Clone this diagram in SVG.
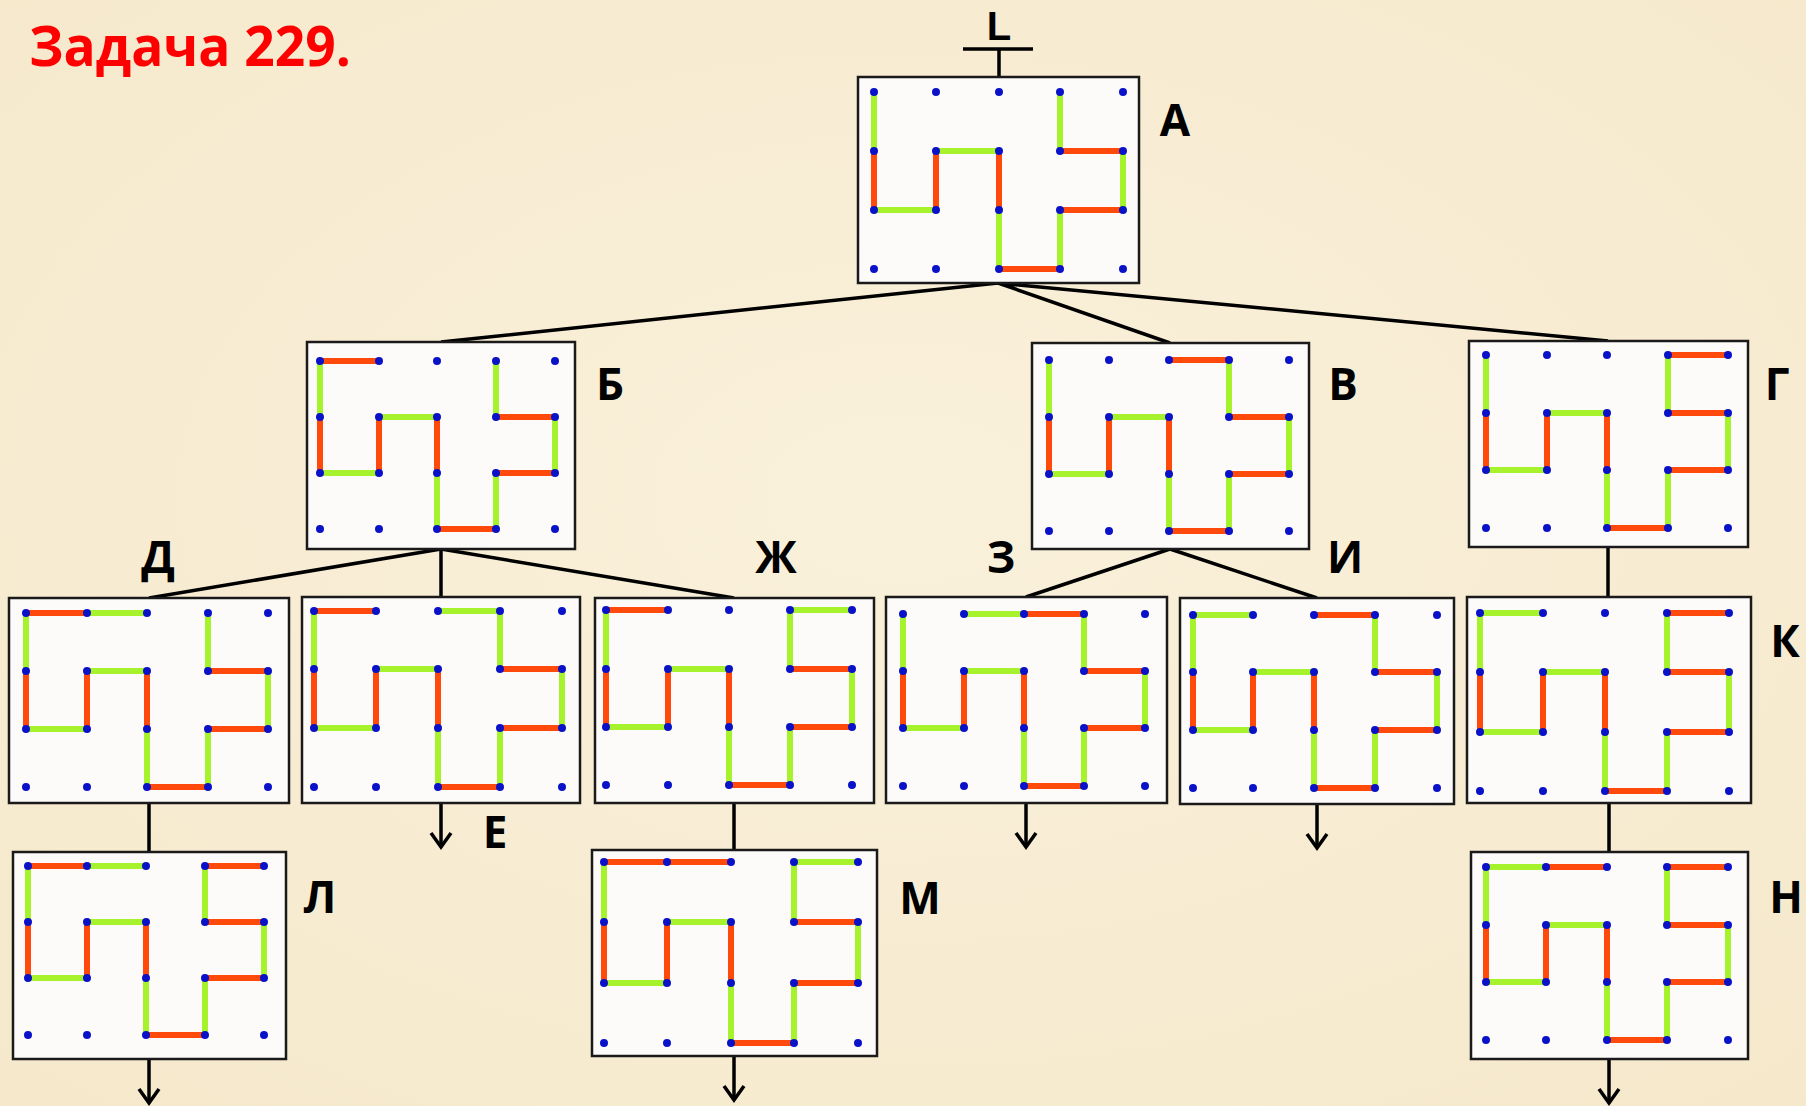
<svg xmlns="http://www.w3.org/2000/svg" width="1806" height="1106" viewBox="0 0 1806 1106">
<defs>
<radialGradient id="bg" cx="50%" cy="45%" r="75%">
<stop offset="0" stop-color="#faf1db"/>
<stop offset="1" stop-color="#f5e8cb"/>
</radialGradient>
<marker id="arr" markerUnits="userSpaceOnUse" markerWidth="30" markerHeight="30" viewBox="-20 -15 30 30" refX="0" refY="0" orient="auto" overflow="visible">
<path d="M-14 -10 L0 0 L-14 10" fill="none" stroke="#000" stroke-width="3.5" stroke-linejoin="miter"/>
</marker>
</defs>
<style>
.box{fill:#fdfbfa;stroke:#1a1a1a;stroke-width:2.5}
.r{fill:none;stroke:#ff4a0c;stroke-width:6;stroke-linecap:butt}
.g{fill:none;stroke:#a6f22c;stroke-width:6;stroke-linecap:butt}
.d{fill:none;stroke:#0a12c8;stroke-width:8;stroke-linecap:round}
.ln{fill:none;stroke:#000;stroke-width:3.5}
.lb{font-family:"Open Sans","Noto Sans","DejaVu Sans",sans-serif;font-weight:bold;font-size:44px;fill:#000;text-anchor:middle}
.title{font-family:"Open Sans","Noto Sans","DejaVu Sans",sans-serif;font-weight:bold;font-size:56px;fill:#ff0000}
</style>
<rect x="0" y="0" width="1806" height="1106" fill="url(#bg)"/>
<text class="title" x="29" y="66" textLength="322" lengthAdjust="spacingAndGlyphs">Задача 229.</text>

<g id="connectors">
<path class="ln" d="M963 49H1033 M999 49V77"/>
<path class="ln" d="M998 283L441 342 M998 283L1170 343 M998 283L1608 341"/>
<path class="ln" d="M441 549L149 598 M441 549L734 598"/>
<path class="ln" d="M1170 549L1026 597 M1170 549L1317 598"/>
<path class="ln" d="M1608 547V597 M149 803V852 M734 803V850 M1609 803V852"/>
<path class="ln" d="M441 549V597"/>
<path class="ln" marker-end="url(#arr)" d="M441 803V847"/>
<path class="ln" marker-end="url(#arr)" d="M1026 803V847"/>
<path class="ln" marker-end="url(#arr)" d="M1317 804V848"/>
<path class="ln" marker-end="url(#arr)" d="M149 1059V1103"/>
<path class="ln" marker-end="url(#arr)" d="M734 1056V1100"/>
<path class="ln" marker-end="url(#arr)" d="M1609 1059V1103"/>
</g>

<text x="999" y="40" style="font-family:'Liberation Sans',Arial,sans-serif;font-weight:bold;font-size:40px;text-anchor:middle;fill:#000">L</text>

<g id="node-A">
<rect class="box" x="858" y="77" width="281" height="206"/>
<path class="r" d="M874 151V210 M936 210V151 M999 151V210 M999 269H1060 M1060 210H1123 M1123 151H1060"/>
<path class="g" d="M874 92V151 M874 210H936 M936 151H999 M999 210V269 M1060 269V210 M1123 210V151 M1060 151V92"/>
<path class="d" d="M874 92h0M936 92h0M999 92h0M1060 92h0M1123 92h0M874 151h0M936 151h0M999 151h0M1060 151h0M1123 151h0M874 210h0M936 210h0M999 210h0M1060 210h0M1123 210h0M874 269h0M936 269h0M999 269h0M1060 269h0M1123 269h0"/>
<text class="lb" x="1175" y="136">А</text>
</g>

<g id="node-B">
<rect class="box" x="307" y="342" width="268" height="207"/>
<path class="r" d="M320 417V473 M379 473V417 M437 417V473 M437 529H496 M496 473H555 M555 417H496 M320 361H379"/>
<path class="g" d="M320 361V417 M320 473H379 M379 417H437 M437 473V529 M496 529V473 M555 473V417 M496 417V361"/>
<path class="d" d="M320 361h0M379 361h0M437 361h0M496 361h0M555 361h0M320 417h0M379 417h0M437 417h0M496 417h0M555 417h0M320 473h0M379 473h0M437 473h0M496 473h0M555 473h0M320 529h0M379 529h0M437 529h0M496 529h0M555 529h0"/>
<text class="lb" x="610" y="400">Б</text>
</g>

<g id="node-V">
<rect class="box" x="1032" y="343" width="277" height="206"/>
<path class="r" d="M1049 417V474 M1109 474V417 M1169 417V474 M1169 531H1229 M1229 474H1289 M1289 417H1229 M1169 360H1229"/>
<path class="g" d="M1049 360V417 M1049 474H1109 M1109 417H1169 M1169 474V531 M1229 531V474 M1289 474V417 M1229 417V360"/>
<path class="d" d="M1049 360h0M1109 360h0M1169 360h0M1229 360h0M1289 360h0M1049 417h0M1109 417h0M1169 417h0M1229 417h0M1289 417h0M1049 474h0M1109 474h0M1169 474h0M1229 474h0M1289 474h0M1049 531h0M1109 531h0M1169 531h0M1229 531h0M1289 531h0"/>
<text class="lb" x="1343" y="400">В</text>
</g>

<g id="node-G">
<rect class="box" x="1469" y="341" width="279" height="206"/>
<path class="r" d="M1486 413V470 M1547 470V413 M1607 413V470 M1607 528H1668 M1668 470H1728 M1728 413H1668 M1668 355H1728"/>
<path class="g" d="M1486 355V413 M1486 470H1547 M1547 413H1607 M1607 470V528 M1668 528V470 M1728 470V413 M1668 413V355"/>
<path class="d" d="M1486 355h0M1547 355h0M1607 355h0M1668 355h0M1728 355h0M1486 413h0M1547 413h0M1607 413h0M1668 413h0M1728 413h0M1486 470h0M1547 470h0M1607 470h0M1668 470h0M1728 470h0M1486 528h0M1547 528h0M1607 528h0M1668 528h0M1728 528h0"/>
<text class="lb" x="1777" y="400">Г</text>
</g>

<g id="node-D">
<rect class="box" x="9" y="598" width="280" height="205"/>
<path class="r" d="M26 671V729 M87 729V671 M147 671V729 M147 787H208 M208 729H268 M268 671H208 M26 613H87"/>
<path class="g" d="M26 613V671 M26 729H87 M87 671H147 M147 729V787 M208 787V729 M268 729V671 M208 671V613 M87 613H147"/>
<path class="d" d="M26 613h0M87 613h0M147 613h0M208 613h0M268 613h0M26 671h0M87 671h0M147 671h0M208 671h0M268 671h0M26 729h0M87 729h0M147 729h0M208 729h0M268 729h0M26 787h0M87 787h0M147 787h0M208 787h0M268 787h0"/>
<text class="lb" x="158" y="573">Д</text>
</g>

<g id="node-E">
<rect class="box" x="302" y="597" width="278" height="206"/>
<path class="r" d="M314 669V728 M376 728V669 M438 669V728 M438 787H500 M500 728H562 M562 669H500 M314 611H376"/>
<path class="g" d="M314 611V669 M314 728H376 M376 669H438 M438 728V787 M500 787V728 M562 728V669 M500 669V611 M438 611H500"/>
<path class="d" d="M314 611h0M376 611h0M438 611h0M500 611h0M562 611h0M314 669h0M376 669h0M438 669h0M500 669h0M562 669h0M314 728h0M376 728h0M438 728h0M500 728h0M562 728h0M314 787h0M376 787h0M438 787h0M500 787h0M562 787h0"/>
<text class="lb" x="495" y="848">Е</text>
</g>

<g id="node-ZH">
<rect class="box" x="595" y="598" width="279" height="205"/>
<path class="r" d="M606 669V727 M668 727V669 M729 669V727 M729 785H790 M790 727H852 M852 669H790 M606 610H668"/>
<path class="g" d="M606 610V669 M606 727H668 M668 669H729 M729 727V785 M790 785V727 M852 727V669 M790 669V610 M790 610H852"/>
<path class="d" d="M606 610h0M668 610h0M729 610h0M790 610h0M852 610h0M606 669h0M668 669h0M729 669h0M790 669h0M852 669h0M606 727h0M668 727h0M729 727h0M790 727h0M852 727h0M606 785h0M668 785h0M729 785h0M790 785h0M852 785h0"/>
<text class="lb" x="776" y="573">Ж</text>
</g>

<g id="node-Z">
<rect class="box" x="886" y="597" width="281" height="206"/>
<path class="r" d="M903 671V728 M964 728V671 M1024 671V728 M1024 786H1084 M1084 728H1145 M1145 671H1084 M1024 614H1084"/>
<path class="g" d="M903 614V671 M903 728H964 M964 671H1024 M1024 728V786 M1084 786V728 M1145 728V671 M1084 671V614 M964 614H1024"/>
<path class="d" d="M903 614h0M964 614h0M1024 614h0M1084 614h0M1145 614h0M903 671h0M964 671h0M1024 671h0M1084 671h0M1145 671h0M903 728h0M964 728h0M1024 728h0M1084 728h0M1145 728h0M903 786h0M964 786h0M1024 786h0M1084 786h0M1145 786h0"/>
<text class="lb" x="1001" y="573">З</text>
</g>

<g id="node-I">
<rect class="box" x="1180" y="598" width="274" height="206"/>
<path class="r" d="M1193 672V730 M1253 730V672 M1314 672V730 M1314 788H1375 M1375 730H1437 M1437 672H1375 M1314 615H1375"/>
<path class="g" d="M1193 615V672 M1193 730H1253 M1253 672H1314 M1314 730V788 M1375 788V730 M1437 730V672 M1375 672V615 M1193 615H1253"/>
<path class="d" d="M1193 615h0M1253 615h0M1314 615h0M1375 615h0M1437 615h0M1193 672h0M1253 672h0M1314 672h0M1375 672h0M1437 672h0M1193 730h0M1253 730h0M1314 730h0M1375 730h0M1437 730h0M1193 788h0M1253 788h0M1314 788h0M1375 788h0M1437 788h0"/>
<text class="lb" x="1345" y="573">И</text>
</g>

<g id="node-K">
<rect class="box" x="1467" y="597" width="284" height="206"/>
<path class="r" d="M1480 672V732 M1543 732V672 M1605 672V732 M1605 791H1667 M1667 732H1729 M1729 672H1667 M1667 613H1729"/>
<path class="g" d="M1480 613V672 M1480 732H1543 M1543 672H1605 M1605 732V791 M1667 791V732 M1729 732V672 M1667 672V613 M1480 613H1543"/>
<path class="d" d="M1480 613h0M1543 613h0M1605 613h0M1667 613h0M1729 613h0M1480 672h0M1543 672h0M1605 672h0M1667 672h0M1729 672h0M1480 732h0M1543 732h0M1605 732h0M1667 732h0M1729 732h0M1480 791h0M1543 791h0M1605 791h0M1667 791h0M1729 791h0"/>
<text class="lb" x="1785" y="657">К</text>
</g>

<g id="node-L">
<rect class="box" x="13" y="852" width="273" height="207"/>
<path class="r" d="M28 922V978 M87 978V922 M146 922V978 M146 1035H205 M205 978H264 M264 922H205 M28 866H87 M205 866H264"/>
<path class="g" d="M28 866V922 M28 978H87 M87 922H146 M146 978V1035 M205 1035V978 M264 978V922 M205 922V866 M87 866H146"/>
<path class="d" d="M28 866h0M87 866h0M146 866h0M205 866h0M264 866h0M28 922h0M87 922h0M146 922h0M205 922h0M264 922h0M28 978h0M87 978h0M146 978h0M205 978h0M264 978h0M28 1035h0M87 1035h0M146 1035h0M205 1035h0M264 1035h0"/>
<text class="lb" x="320" y="913">Л</text>
</g>

<g id="node-M">
<rect class="box" x="592" y="850" width="285" height="206"/>
<path class="r" d="M604 922V983 M667 983V922 M731 922V983 M731 1043H794 M794 983H858 M858 922H794 M604 862H731"/>
<path class="g" d="M604 862V922 M604 983H667 M667 922H731 M731 983V1043 M794 1043V983 M858 983V922 M794 922V862 M794 862H858"/>
<path class="d" d="M604 862h0M667 862h0M731 862h0M794 862h0M858 862h0M604 922h0M667 922h0M731 922h0M794 922h0M858 922h0M604 983h0M667 983h0M731 983h0M794 983h0M858 983h0M604 1043h0M667 1043h0M731 1043h0M794 1043h0M858 1043h0"/>
<text class="lb" x="920" y="914">М</text>
</g>

<g id="node-N">
<rect class="box" x="1471" y="852" width="277" height="207"/>
<path class="r" d="M1486 925V982 M1546 982V925 M1607 925V982 M1607 1040H1667 M1667 982H1728 M1728 925H1667 M1546 867H1607 M1667 867H1728"/>
<path class="g" d="M1486 867V925 M1486 982H1546 M1546 925H1607 M1607 982V1040 M1667 1040V982 M1728 982V925 M1667 925V867 M1486 867H1546"/>
<path class="d" d="M1486 867h0M1546 867h0M1607 867h0M1667 867h0M1728 867h0M1486 925h0M1546 925h0M1607 925h0M1667 925h0M1728 925h0M1486 982h0M1546 982h0M1607 982h0M1667 982h0M1728 982h0M1486 1040h0M1546 1040h0M1607 1040h0M1667 1040h0M1728 1040h0"/>
<text class="lb" x="1786" y="913">Н</text>
</g>
</svg>
